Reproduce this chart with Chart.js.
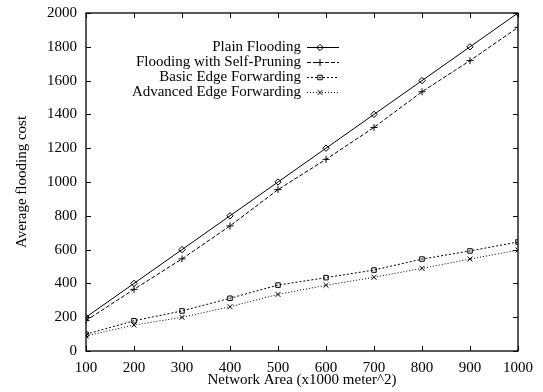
<!DOCTYPE html>
<html>
<head>
<meta charset="utf-8">
<script src="https://cdn.jsdelivr.net/npm/chart.js@4/dist/chart.umd.min.js"></script>
<style>
  html, body { margin: 0; padding: 0; background: #fff; }
  #wrap { width: 543px; height: 392px; }
</style>
</head>
<body>
<div id="wrap"><canvas id="chart"></canvas></div>
<script>
const areas = [100, 200, 300, 400, 500, 600, 700, 800, 900, 1000];
const plainFlooding = [200, 400, 600, 800, 1000, 1200, 1400, 1600, 1800, 2000];
const selfPruning = [180, 365, 545, 740, 955, 1134, 1323, 1534, 1718, 1915];
const basicEdge = [99, 179, 237, 312, 390, 434, 479, 544, 592, 645];
const advancedEdge = [89, 154, 199, 262, 335, 389, 436, 489, 544, 597];

const serif = "'Liberation Serif', 'DejaVu Serif', serif";

function toPoints(values) {
  return areas.map((a, i) => ({ x: a, y: values[i] }));
}

const seriesList = [
  { label: "Plain Flooding", data: plainFlooding, dash: [], style: "rectRot", radius: 3.2 },
  { label: "Flooding with Self-Pruning", data: selfPruning, dash: [4, 2], style: "cross", radius: 3.5 },
  { label: "Basic Edge Forwarding", data: basicEdge, dash: [2, 2], style: "rect", radius: 3.2 },
  { label: "Advanced Edge Forwarding", data: advancedEdge, dash: [1, 2], style: "crossRot", radius: 3.5 },
];

// inward ticks, frame and gnuplot-like key
const framePlugin = {
  id: "frame",
  afterDatasetsDraw(chart) {
    const ctx = chart.ctx;
    const area = chart.chartArea;
    const xs = chart.scales.x;
    const ys = chart.scales.y;
    ctx.save();
    ctx.strokeStyle = "#000";
    ctx.lineWidth = 1;
    ctx.setLineDash([]);
    ctx.beginPath();
    for (const t of xs.ticks) {
      const px = Math.round(xs.getPixelForValue(t.value)) + 0.5;
      ctx.moveTo(px, area.bottom);
      ctx.lineTo(px, area.bottom - 5);
      ctx.moveTo(px, area.top);
      ctx.lineTo(px, area.top + 5);
    }
    for (const t of ys.ticks) {
      const py = Math.round(ys.getPixelForValue(t.value)) + 0.5;
      ctx.moveTo(area.left, py);
      ctx.lineTo(area.left + 5, py);
      ctx.moveTo(area.right, py);
      ctx.lineTo(area.right - 5, py);
    }
    ctx.stroke();
    ctx.lineWidth = 1.3;
    ctx.strokeRect(area.left, area.top, area.right - area.left, area.bottom - area.top);

    // key
    ctx.font = "15px " + serif;
    ctx.textAlign = "right";
    ctx.textBaseline = "middle";
    const rows = [47, 62, 77, 92];
    chart.data.datasets.forEach((ds, i) => {
      const y = rows[i] + 0.5;
      ctx.fillStyle = "#000";
      ctx.fillText(ds.label, 301, rows[i]);
      ctx.lineWidth = 1;
      ctx.setLineDash(ds.borderDash);
      ctx.beginPath();
      ctx.moveTo(307, y);
      ctx.lineTo(339, y);
      ctx.stroke();
      ctx.setLineDash([]);
      ctx.fillStyle = "rgba(0,0,0,0)";
      Chart.helpers.drawPoint(ctx, {
        pointStyle: ds.pointStyle,
        radius: ds.pointRadius,
        borderWidth: 1,
      }, 320, y);
    });
    ctx.restore();
  },
};

new Chart(document.getElementById("chart"), {
  type: "line",
  data: {
    datasets: seriesList.map((s) => ({
      label: s.label,
      data: toPoints(s.data),
      borderColor: "#000",
      borderWidth: 1,
      borderDash: s.dash,
      pointStyle: s.style,
      pointRadius: s.radius,
      pointBorderColor: "#000",
      pointBackgroundColor: "rgba(0,0,0,0)",
      pointBorderWidth: 1,
      tension: 0,
    })),
  },
  options: {
    responsive: true,
    maintainAspectRatio: false,
    animation: false,
    layout: { padding: { top: 13, right: 25, left: 0, bottom: 0 } },
    plugins: {
      legend: { display: false },
      tooltip: { enabled: false },
    },
    scales: {
      x: {
        type: "linear",
        min: 100,
        max: 1000,
        grid: { display: false, drawTicks: false },
        border: { display: false },
        ticks: {
          stepSize: 100,
          color: "#000",
          padding: 8,
          maxRotation: 0,
          font: { family: serif, size: 15 },
          callback: (v) => String(v),
        },
        title: {
          display: true,
          text: "Network Area (x1000 meter^2)",
          color: "#000",
          padding: { top: 0, bottom: 3 },
          font: { family: serif, size: 15 },
        },
        afterFit(scale) {
          scale.height = 41;
          scale.paddingLeft = 0;
          scale.paddingRight = 0;
        },
      },
      y: {
        min: 0,
        max: 2000,
        grid: { display: false, drawTicks: false },
        border: { display: false },
        ticks: {
          stepSize: 200,
          color: "#000",
          padding: 9,
          font: { family: serif, size: 15 },
          callback: (v) => String(v),
        },
        title: {
          display: true,
          text: "Average flooding cost",
          color: "#000",
          padding: { top: 13, bottom: 0 },
          font: { family: serif, size: 15 },
        },
        afterFit(scale) {
          scale.width = 86;
          scale.paddingTop = 0;
          scale.paddingBottom = 0;
        },
      },
    },
  },
  plugins: [framePlugin],
});
</script>
</body>
</html>
